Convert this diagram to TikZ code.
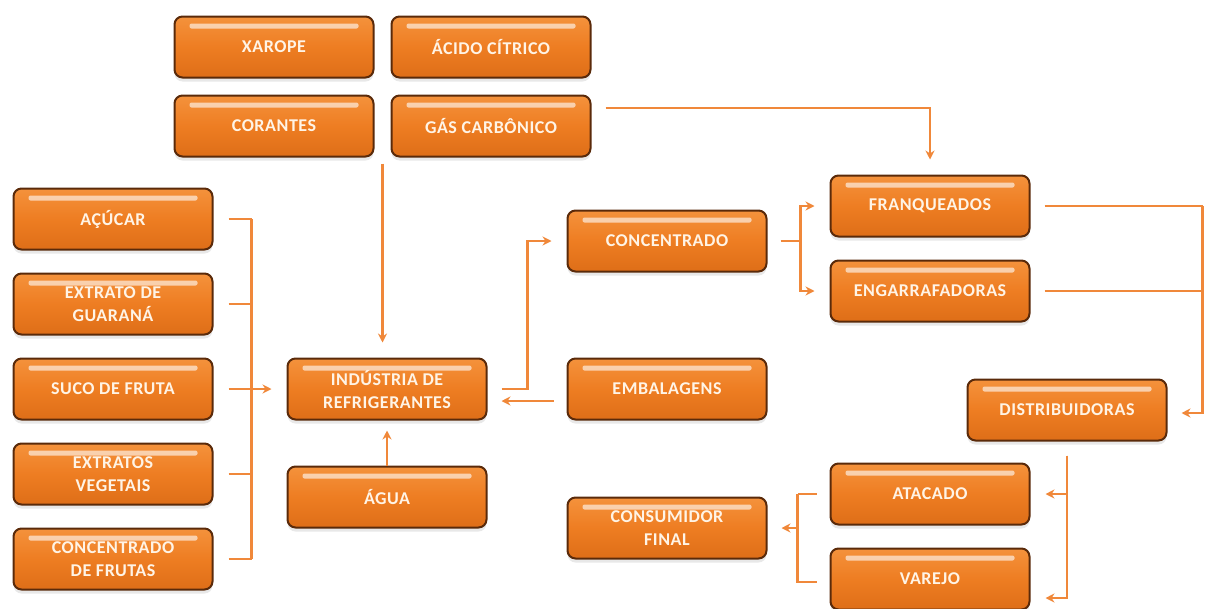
\documentclass[tikz,border=0pt]{standalone}
\usepackage{fontspec}
\setmainfont{Carlito}
\newfontfamily\boxfont[LetterSpace=3]{Carlito}
\usetikzlibrary{
  arrows.meta,
  positioning,
  calc,
  shadows
}
\definecolor{sodaorange}{HTML}{EE7D22}
\definecolor{sodalight}{HTML}{F4923C}
\definecolor{sodadeep}{HTML}{DE6E18}
\definecolor{sodabrown}{HTML}{5A2A0A}
\definecolor{sodacream}{HTML}{FFF4E6}
\definecolor{sodaline}{HTML}{F0883A}

\begin{document}
\begin{tikzpicture}[
      x=1pt, y=1pt,
      box/.style={
        rectangle, rounded corners=8pt,
        minimum width=199pt, minimum height=61pt, inner sep=2pt,
        draw=sodabrown, line width=2pt,
        top color=sodalight, bottom color=sodadeep, middle color=sodaorange,
        drop shadow={opacity=0.18, shadow xshift=0pt, shadow yshift=-4pt},
        path picture={
          \fill[white, opacity=0.6, rounded corners=2pt]
            ($(path picture bounding box.north west)+(15,-7)$) rectangle
            ($(path picture bounding box.north east)+(-15,-12)$);
        },
        font=\boxfont\bfseries\fontsize{18}{23}\selectfont\color{sodacream}, align=center
      },
      line/.style={line width=2.8pt, sodaline},
      arrow/.style={-{Stealth[length=9pt, width=9pt]}, line width=2.8pt, sodaline}
    ]
      \useasboundingbox (0,0) rectangle (1205,-608);

      \node[box] (xarope) at (274,-47) {XAROPE};
      \node[box, right=16pt of xarope] (acido) {ÁCIDO CÍTRICO};
      \node[box, below=16pt of xarope] (corantes) {CORANTES};
      \node[box, below=16pt of acido] (gas) {GÁS CARBÔNICO};

      \node[box] (acucar) at (113,-219) {AÇÚCAR};
      \node[box, below=22pt of acucar] (guarana) {EXTRATO DE\\GUARANÁ};
      \node[box, below=22pt of guarana] (suco) {SUCO DE FRUTA};
      \node[box, below=22pt of suco] (vegetais) {EXTRATOS\\VEGETAIS};
      \node[box, below=22pt of vegetais] (frutas) {CONCENTRADO\\DE FRUTAS};

      \node[box, right=73pt of suco] (industria) {INDÚSTRIA DE\\REFRIGERANTES};
      \node[box, below=45pt of industria] (agua) {ÁGUA};
      \node[box, right=79pt of industria] (embalagens) {EMBALAGENS};
      \node[box, above=85pt of embalagens] (concentrado) {CONCENTRADO};
      \node[box, below=76pt of embalagens] (consumidor) {CONSUMIDOR\\FINAL};

      \node[box] (franqueados) at (930,-206) {FRANQUEADOS};
      \node[box, below=22pt of franqueados] (engarrafadoras) {ENGARRAFADORAS};
      \node[box] (distribuidoras) at (1067,-410) {DISTRIBUIDORAS};
      \node[box] (atacado) at (930,-494) {ATACADO};
      \node[box, below=22pt of atacado] (varejo) {VAREJO};

      % Insumos
      \coordinate (drop) at ($(corantes.south east)!.5!(gas.south west)+(0,-6)$);
      \draw[arrow, shorten >=15pt] (drop) -- (drop |- industria.north);
      \draw[arrow, shorten >=15pt] ([xshift=14pt, yshift=18pt]gas.east) -| (franqueados.north);

      \coordinate (leftbar) at ([xshift=38pt]suco.east);
      \foreach \src in {acucar, guarana, suco, vegetais, frutas}
        \draw[line] ([xshift=15pt]\src.east) -- (\src.east -| leftbar);
      \draw[line] (acucar.east -| leftbar) -- (frutas.east -| leftbar);
      \draw[arrow, shorten >=15pt] (leftbar) -- (industria.west);
      \draw[arrow, shorten >=10pt] (agua) -- (industria);

      % Industria e concentrado
      \draw[arrow, shorten >=15pt] ([xshift=14pt]industria.east) -- ++(26,0) |- (concentrado.west);
      \draw[arrow, shorten >=14pt] ([xshift=-13pt, yshift=-12pt]embalagens.west) -- ([yshift=-12pt]industria.east);

      \draw[line] ([xshift=13pt]concentrado.east) -- ++(20,0) coordinate (split);
      \draw[arrow, shorten >=15pt] (split) |- (franqueados.west);
      \draw[arrow, shorten >=15pt] (split) |- (engarrafadoras.west);

      % Distribuicao
      \coordinate (rightbar) at ([xshift=172pt]franqueados.east);
      \draw[line] ([xshift=14pt]franqueados.east) -- (rightbar);
      \draw[line] ([xshift=14pt]engarrafadoras.east) -- (engarrafadoras.east -| rightbar);
      \draw[arrow, shorten >=14pt] (rightbar) |- ([yshift=-3pt]distribuidoras.east);

      \coordinate (fork) at ([yshift=-14pt]distribuidoras.south);
      \draw[arrow, shorten >=15pt] (fork) |- (atacado.east);
      \draw[arrow, shorten >=15pt] (fork) |- ([yshift=-19pt]varejo.east);

      \coordinate (join) at ([xshift=-32pt]atacado.west);
      \draw[line] ([xshift=-13pt]atacado.west) -- (join);
      \draw[line] ([xshift=-13pt, yshift=-3pt]varejo.west) -| (join);
      \draw[arrow, shorten >=14pt] (join |- consumidor.east) -- (consumidor.east);
    \end{tikzpicture}
\end{document}
